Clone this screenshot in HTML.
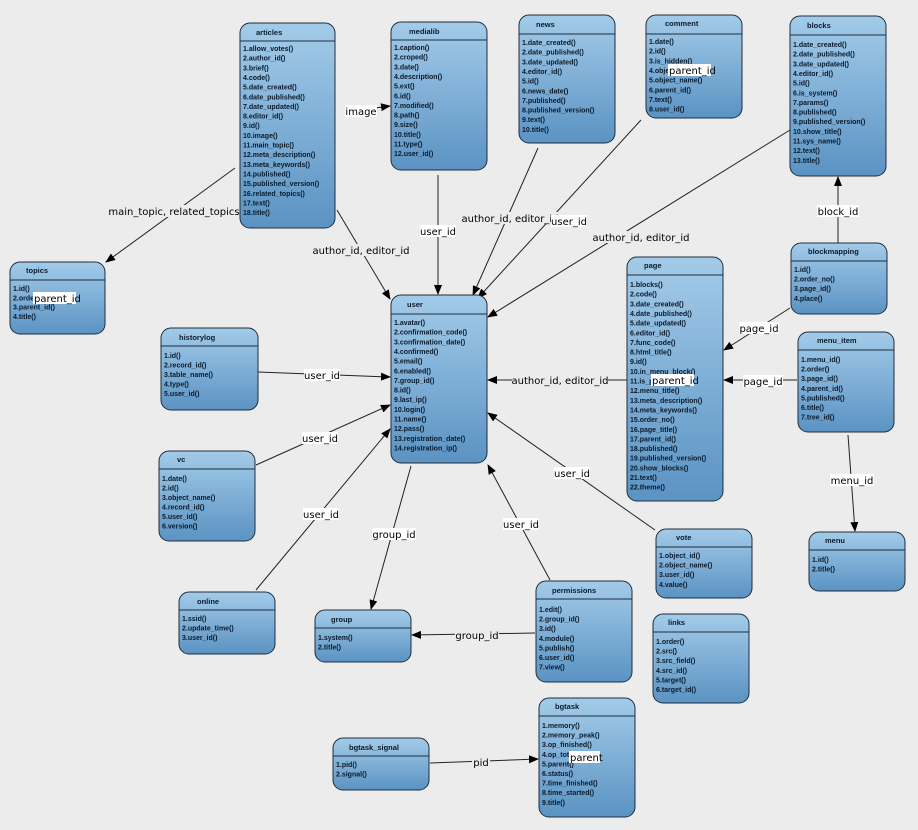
<!DOCTYPE html>
<html><head><meta charset="utf-8"><style>
html,body{margin:0;padding:0;background:#ececec;}
svg{display:block;}
.t{font-family:"Liberation Sans",sans-serif;font-size:7.5px;font-weight:bold;fill:#0b1a2a;}
.i{font-family:"Liberation Sans",sans-serif;font-size:7px;font-weight:bold;fill:#0b1a2a;}
.l{font-family:"DejaVu Sans","Liberation Sans",sans-serif;font-size:10px;fill:#000;}
.e{stroke:#222;stroke-width:1;fill:none;}
</style></head><body>
<svg width="918" height="830" viewBox="0 0 918 830" xmlns="http://www.w3.org/2000/svg">
<defs>
<linearGradient id="g" x1="0" y1="0" x2="0" y2="1">
<stop offset="0" stop-color="#a3cbe9"/><stop offset="1" stop-color="#5b93c3"/>
</linearGradient>
<marker id="a" markerWidth="10" markerHeight="10" refX="9" refY="4" orient="auto" markerUnits="userSpaceOnUse">
<path d="M0,0 L10,4 L0,8 z" fill="#000"/>
</marker>
</defs>
<rect width="918" height="830" fill="#ececec"/>

<!-- edges -->
<g class="e" marker-end="url(#a)">
<line x1="345" y1="112" x2="390" y2="106"/>
<line x1="235" y1="168" x2="106" y2="262"/>
<line x1="337" y1="210" x2="390" y2="299"/>
<line x1="438" y1="175" x2="438" y2="294"/>
<line x1="538" y1="148" x2="473" y2="295"/>
<line x1="641" y1="120" x2="478" y2="298"/>
<line x1="790" y1="130" x2="488" y2="317"/>
<line x1="838" y1="243" x2="838" y2="177"/>
<line x1="790" y1="308" x2="724" y2="350"/>
<line x1="797" y1="380" x2="724" y2="380"/>
<line x1="848" y1="435" x2="855" y2="531"/>
<line x1="627" y1="380" x2="488" y2="380"/>
<line x1="258" y1="372" x2="390" y2="377"/>
<line x1="256" y1="465" x2="390" y2="405"/>
<line x1="256" y1="590" x2="390" y2="429"/>
<line x1="411" y1="466" x2="371" y2="609"/>
<line x1="550" y1="580" x2="488" y2="465"/>
<line x1="655" y1="530" x2="488" y2="413"/>
<line x1="535" y1="633" x2="412" y2="635"/>
<line x1="430" y1="763" x2="538" y2="759"/>
</g>
<g class="l" text-anchor="middle">
<rect x="345" y="105" width="32" height="12" fill="#fff"/><text x="361" y="115">image</text>
<rect x="110" y="205" width="128" height="12" fill="#ececec"/><text x="174" y="215">main_topic, related_topics</text>
<rect x="313" y="244" width="96" height="12" fill="#ececec"/><text x="361" y="254">author_id, editor_id</text>
<rect x="420" y="225" width="36" height="12" fill="#fff"/><text x="438" y="235">user_id</text>
<rect x="462" y="212" width="96" height="12" fill="#ececec"/><text x="510" y="222">author_id, editor_id</text>
<rect x="551" y="215" width="36" height="12" fill="#fff"/><text x="569" y="225">user_id</text>
<rect x="593" y="231" width="96" height="12" fill="#ececec"/><text x="641" y="241">author_id, editor_id</text>
<rect x="817" y="205" width="42" height="12" fill="#fff"/><text x="838" y="215">block_id</text>
<rect x="739" y="322" width="40" height="12" fill="#fff"/><text x="759" y="332">page_id</text>
<rect x="743" y="375" width="40" height="12" fill="#fff"/><text x="763" y="385">page_id</text>
<rect x="830" y="474" width="44" height="12" fill="#fff"/><text x="852" y="484">menu_id</text>
<rect x="512" y="374" width="96" height="12" fill="#ececec"/><text x="560" y="384">author_id, editor_id</text>
<rect x="304" y="369" width="36" height="12" fill="#fff"/><text x="322" y="379">user_id</text>
<rect x="302" y="432" width="36" height="12" fill="#fff"/><text x="320" y="442">user_id</text>
<rect x="303" y="508" width="36" height="12" fill="#fff"/><text x="321" y="518">user_id</text>
<rect x="372" y="528" width="44" height="12" fill="#fff"/><text x="394" y="538">group_id</text>
<rect x="503" y="518" width="36" height="12" fill="#fff"/><text x="521" y="528">user_id</text>
<rect x="554" y="467" width="36" height="12" fill="#fff"/><text x="572" y="477">user_id</text>
<rect x="455" y="629" width="44" height="12" fill="#ececec"/><text x="477" y="639">group_id</text>
<rect x="472" y="756" width="18" height="12" fill="#ececec"/><text x="481" y="766">pid</text>
</g>

<!-- nodes -->
<g transform="translate(240,23)"><rect width="95" height="205" rx="10" fill="url(#g)" stroke="#1e2d3d"/><line x1="0" y1="18" x2="95" y2="18" stroke="#1e2d3d"/><text class="t" x="16" y="12">articles</text>
<text class="i" y="28"><tspan x="3">1.allow_votes()</tspan><tspan x="3" dy="9.65">2.author_id()</tspan><tspan x="3" dy="9.65">3.brief()</tspan><tspan x="3" dy="9.65">4.code()</tspan><tspan x="3" dy="9.65">5.date_created()</tspan><tspan x="3" dy="9.65">6.date_published()</tspan><tspan x="3" dy="9.65">7.date_updated()</tspan><tspan x="3" dy="9.65">8.editor_id()</tspan><tspan x="3" dy="9.65">9.id()</tspan><tspan x="3" dy="9.65">10.image()</tspan><tspan x="3" dy="9.65">11.main_topic()</tspan><tspan x="3" dy="9.65">12.meta_description()</tspan><tspan x="3" dy="9.65">13.meta_keywords()</tspan><tspan x="3" dy="9.65">14.published()</tspan><tspan x="3" dy="9.65">15.published_version()</tspan><tspan x="3" dy="9.65">16.related_topics()</tspan><tspan x="3" dy="9.65">17.text()</tspan><tspan x="3" dy="9.65">18.title()</tspan></text></g>

<g transform="translate(391,22)"><rect width="96" height="148" rx="10" fill="url(#g)" stroke="#1e2d3d"/><line x1="0" y1="18" x2="96" y2="18" stroke="#1e2d3d"/><text class="t" x="18" y="12">medialib</text>
<text class="i" y="28"><tspan x="3">1.caption()</tspan><tspan x="3" dy="9.65">2.croped()</tspan><tspan x="3" dy="9.65">3.date()</tspan><tspan x="3" dy="9.65">4.description()</tspan><tspan x="3" dy="9.65">5.ext()</tspan><tspan x="3" dy="9.65">6.id()</tspan><tspan x="3" dy="9.65">7.modified()</tspan><tspan x="3" dy="9.65">8.path()</tspan><tspan x="3" dy="9.65">9.size()</tspan><tspan x="3" dy="9.65">10.title()</tspan><tspan x="3" dy="9.65">11.type()</tspan><tspan x="3" dy="9.65">12.user_id()</tspan></text></g>

<g transform="translate(519,15)"><rect width="96" height="128" rx="10" fill="url(#g)" stroke="#1e2d3d"/><line x1="0" y1="19" x2="96" y2="19" stroke="#1e2d3d"/><text class="t" x="17" y="12">news</text>
<text class="i" y="30"><tspan x="3">1.date_created()</tspan><tspan x="3" dy="9.65">2.date_published()</tspan><tspan x="3" dy="9.65">3.date_updated()</tspan><tspan x="3" dy="9.65">4.editor_id()</tspan><tspan x="3" dy="9.65">5.id()</tspan><tspan x="3" dy="9.65">6.news_date()</tspan><tspan x="3" dy="9.65">7.published()</tspan><tspan x="3" dy="9.65">8.published_version()</tspan><tspan x="3" dy="9.65">9.text()</tspan><tspan x="3" dy="9.65">10.title()</tspan></text></g>

<g transform="translate(646,15)"><rect width="96" height="103" rx="10" fill="url(#g)" stroke="#1e2d3d"/><line x1="0" y1="19" x2="96" y2="19" stroke="#1e2d3d"/><text class="t" x="19" y="11">comment</text>
<text class="i" y="29"><tspan x="3">1.date()</tspan><tspan x="3" dy="9.65">2.id()</tspan><tspan x="3" dy="9.65">3.is_hidden()</tspan><tspan x="3" dy="9.65">4.object_id()</tspan><tspan x="3" dy="9.65">5.object_name()</tspan><tspan x="3" dy="9.65">6.parent_id()</tspan><tspan x="3" dy="9.65">7.text()</tspan><tspan x="3" dy="9.65">8.user_id()</tspan></text>
<rect x="22" y="49" width="43" height="12" fill="#fff"/><text class="l" x="23" y="59">parent_id</text></g>

<g transform="translate(790,16)"><rect width="96" height="160" rx="10" fill="url(#g)" stroke="#1e2d3d"/><line x1="0" y1="19" x2="96" y2="19" stroke="#1e2d3d"/><text class="t" x="17" y="12">blocks</text>
<text class="i" y="31"><tspan x="3">1.date_created()</tspan><tspan x="3" dy="9.65">2.date_published()</tspan><tspan x="3" dy="9.65">3.date_updated()</tspan><tspan x="3" dy="9.65">4.editor_id()</tspan><tspan x="3" dy="9.65">5.id()</tspan><tspan x="3" dy="9.65">6.is_system()</tspan><tspan x="3" dy="9.65">7.params()</tspan><tspan x="3" dy="9.65">8.published()</tspan><tspan x="3" dy="9.65">9.published_version()</tspan><tspan x="3" dy="9.65">10.show_title()</tspan><tspan x="3" dy="9.65">11.sys_name()</tspan><tspan x="3" dy="9.65">12.text()</tspan><tspan x="3" dy="9.65">13.title()</tspan></text></g>

<g transform="translate(10,262)"><rect width="95" height="72" rx="10" fill="url(#g)" stroke="#1e2d3d"/><line x1="0" y1="18" x2="95" y2="18" stroke="#1e2d3d"/><text class="t" x="16" y="11">topics</text>
<text class="i" y="29"><tspan x="3">1.id()</tspan><tspan x="3" dy="9.3">2.order()</tspan><tspan x="3" dy="9.3">3.parent_id()</tspan><tspan x="3" dy="9.3">4.title()</tspan></text>
<rect x="23" y="30" width="43" height="12" fill="#fff"/><text class="l" x="24" y="40">parent_id</text></g>

<g transform="translate(391,295)"><rect width="96" height="168" rx="10" fill="url(#g)" stroke="#1e2d3d"/><line x1="0" y1="19" x2="96" y2="19" stroke="#1e2d3d"/><text class="t" x="16" y="12">user</text>
<text class="i" y="30"><tspan x="3">1.avatar()</tspan><tspan x="3" dy="9.65">2.confirmation_code()</tspan><tspan x="3" dy="9.65">3.confirmation_date()</tspan><tspan x="3" dy="9.65">4.confirmed()</tspan><tspan x="3" dy="9.65">5.email()</tspan><tspan x="3" dy="9.65">6.enabled()</tspan><tspan x="3" dy="9.65">7.group_id()</tspan><tspan x="3" dy="9.65">8.id()</tspan><tspan x="3" dy="9.65">9.last_ip()</tspan><tspan x="3" dy="9.65">10.login()</tspan><tspan x="3" dy="9.65">11.name()</tspan><tspan x="3" dy="9.65">12.pass()</tspan><tspan x="3" dy="9.65">13.registration_date()</tspan><tspan x="3" dy="9.65">14.registration_ip()</tspan></text></g>

<g transform="translate(161,328)"><rect width="97" height="82" rx="10" fill="url(#g)" stroke="#1e2d3d"/><line x1="0" y1="18" x2="97" y2="18" stroke="#1e2d3d"/><text class="t" x="18" y="12">historylog</text>
<text class="i" y="30"><tspan x="3">1.id()</tspan><tspan x="3" dy="9.5">2.record_id()</tspan><tspan x="3" dy="9.5">3.table_name()</tspan><tspan x="3" dy="9.5">4.type()</tspan><tspan x="3" dy="9.5">5.user_id()</tspan></text></g>

<g transform="translate(159,451)"><rect width="96" height="90" rx="10" fill="url(#g)" stroke="#1e2d3d"/><line x1="0" y1="18" x2="96" y2="18" stroke="#1e2d3d"/><text class="t" x="18" y="11">vc</text>
<text class="i" y="30"><tspan x="3">1.date()</tspan><tspan x="3" dy="9.5">2.id()</tspan><tspan x="3" dy="9.5">3.object_name()</tspan><tspan x="3" dy="9.5">4.record_id()</tspan><tspan x="3" dy="9.5">5.user_id()</tspan><tspan x="3" dy="9.5">6.version()</tspan></text></g>

<g transform="translate(179,592)"><rect width="96" height="62" rx="10" fill="url(#g)" stroke="#1e2d3d"/><line x1="0" y1="18" x2="96" y2="18" stroke="#1e2d3d"/><text class="t" x="18" y="12">online</text>
<text class="i" y="29"><tspan x="3">1.ssid()</tspan><tspan x="3" dy="9.5">2.update_time()</tspan><tspan x="3" dy="9.5">3.user_id()</tspan></text></g>

<g transform="translate(315,610)"><rect width="96" height="52" rx="10" fill="url(#g)" stroke="#1e2d3d"/><line x1="0" y1="18" x2="96" y2="18" stroke="#1e2d3d"/><text class="t" x="16" y="12">group</text>
<text class="i" y="30"><tspan x="3">1.system()</tspan><tspan x="3" dy="9.5">2.title()</tspan></text></g>

<g transform="translate(536,581)"><rect width="96" height="101" rx="10" fill="url(#g)" stroke="#1e2d3d"/><line x1="0" y1="18" x2="96" y2="18" stroke="#1e2d3d"/><text class="t" x="16" y="12">permissions</text>
<text class="i" y="31"><tspan x="3">1.edit()</tspan><tspan x="3" dy="9.6">2.group_id()</tspan><tspan x="3" dy="9.6">3.id()</tspan><tspan x="3" dy="9.6">4.module()</tspan><tspan x="3" dy="9.6">5.publish()</tspan><tspan x="3" dy="9.6">6.user_id()</tspan><tspan x="3" dy="9.6">7.view()</tspan></text></g>

<g transform="translate(627,257)"><rect width="96" height="244" rx="10" fill="url(#g)" stroke="#1e2d3d"/><line x1="0" y1="18" x2="96" y2="18" stroke="#1e2d3d"/><text class="t" x="17" y="11">page</text>
<text class="i" y="30"><tspan x="3">1.blocks()</tspan><tspan x="3" dy="9.65">2.code()</tspan><tspan x="3" dy="9.65">3.date_created()</tspan><tspan x="3" dy="9.65">4.date_published()</tspan><tspan x="3" dy="9.65">5.date_updated()</tspan><tspan x="3" dy="9.65">6.editor_id()</tspan><tspan x="3" dy="9.65">7.func_code()</tspan><tspan x="3" dy="9.65">8.html_title()</tspan><tspan x="3" dy="9.65">9.id()</tspan><tspan x="3" dy="9.65">10.in_menu_block()</tspan><tspan x="3" dy="9.65">11.is_parent()</tspan><tspan x="3" dy="9.65">12.menu_title()</tspan><tspan x="3" dy="9.65">13.meta_description()</tspan><tspan x="3" dy="9.65">14.meta_keywords()</tspan><tspan x="3" dy="9.65">15.order_no()</tspan><tspan x="3" dy="9.65">16.page_title()</tspan><tspan x="3" dy="9.65">17.parent_id()</tspan><tspan x="3" dy="9.65">18.published()</tspan><tspan x="3" dy="9.65">19.published_version()</tspan><tspan x="3" dy="9.65">20.show_blocks()</tspan><tspan x="3" dy="9.65">21.text()</tspan><tspan x="3" dy="9.65">22.theme()</tspan></text>
<rect x="24" y="117" width="43" height="12" fill="#fff"/><text class="l" x="25" y="127">parent_id</text></g>

<g transform="translate(791,243)"><rect width="96" height="71" rx="10" fill="url(#g)" stroke="#1e2d3d"/><line x1="0" y1="18" x2="96" y2="18" stroke="#1e2d3d"/><text class="t" x="17" y="11">blockmapping</text>
<text class="i" y="29"><tspan x="3">1.id()</tspan><tspan x="3" dy="9.6">2.order_no()</tspan><tspan x="3" dy="9.6">3.page_id()</tspan><tspan x="3" dy="9.6">4.place()</tspan></text></g>

<g transform="translate(798,332)"><rect width="96" height="100" rx="10" fill="url(#g)" stroke="#1e2d3d"/><line x1="0" y1="18" x2="96" y2="18" stroke="#1e2d3d"/><text class="t" x="19" y="11">menu_item</text>
<text class="i" y="30"><tspan x="3">1.menu_id()</tspan><tspan x="3" dy="9.6">2.order()</tspan><tspan x="3" dy="9.6">3.page_id()</tspan><tspan x="3" dy="9.6">4.parent_id()</tspan><tspan x="3" dy="9.6">5.published()</tspan><tspan x="3" dy="9.6">6.title()</tspan><tspan x="3" dy="9.6">7.tree_id()</tspan></text></g>

<g transform="translate(656,529)"><rect width="96" height="69" rx="10" fill="url(#g)" stroke="#1e2d3d"/><line x1="0" y1="18" x2="96" y2="18" stroke="#1e2d3d"/><text class="t" x="20" y="11">vote</text>
<text class="i" y="29"><tspan x="3">1.object_id()</tspan><tspan x="3" dy="9.6">2.object_name()</tspan><tspan x="3" dy="9.6">3.user_id()</tspan><tspan x="3" dy="9.6">4.value()</tspan></text></g>

<g transform="translate(653,614)"><rect width="96" height="89" rx="10" fill="url(#g)" stroke="#1e2d3d"/><line x1="0" y1="18" x2="96" y2="18" stroke="#1e2d3d"/><text class="t" x="15" y="11">links</text>
<text class="i" y="30"><tspan x="3">1.order()</tspan><tspan x="3" dy="9.6">2.src()</tspan><tspan x="3" dy="9.6">3.src_field()</tspan><tspan x="3" dy="9.6">4.src_id()</tspan><tspan x="3" dy="9.6">5.target()</tspan><tspan x="3" dy="9.6">6.target_id()</tspan></text></g>

<g transform="translate(809,532)"><rect width="96" height="59" rx="10" fill="url(#g)" stroke="#1e2d3d"/><line x1="0" y1="18" x2="96" y2="18" stroke="#1e2d3d"/><text class="t" x="16" y="11">menu</text>
<text class="i" y="30"><tspan x="3">1.id()</tspan><tspan x="3" dy="9.6">2.title()</tspan></text></g>

<g transform="translate(333,738)"><rect width="96" height="52" rx="10" fill="url(#g)" stroke="#1e2d3d"/><line x1="0" y1="18" x2="96" y2="18" stroke="#1e2d3d"/><text class="t" x="16" y="12">bgtask_signal</text>
<text class="i" y="29"><tspan x="3">1.pid()</tspan><tspan x="3" dy="9.6">2.signal()</tspan></text></g>

<g transform="translate(539,698)"><rect width="96" height="119" rx="10" fill="url(#g)" stroke="#1e2d3d"/><line x1="0" y1="18" x2="96" y2="18" stroke="#1e2d3d"/><text class="t" x="16" y="11">bgtask</text>
<text class="i" y="30"><tspan x="3">1.memory()</tspan><tspan x="3" dy="9.6">2.memory_peak()</tspan><tspan x="3" dy="9.6">3.op_finished()</tspan><tspan x="3" dy="9.6">4.op_total()</tspan><tspan x="3" dy="9.6">5.parent()</tspan><tspan x="3" dy="9.6">6.status()</tspan><tspan x="3" dy="9.6">7.time_finished()</tspan><tspan x="3" dy="9.6">8.time_started()</tspan><tspan x="3" dy="9.6">9.title()</tspan></text>
<rect x="30" y="53" width="31" height="12" fill="#fff"/><text class="l" x="31" y="63">parent</text></g>
</svg>
</body></html>
